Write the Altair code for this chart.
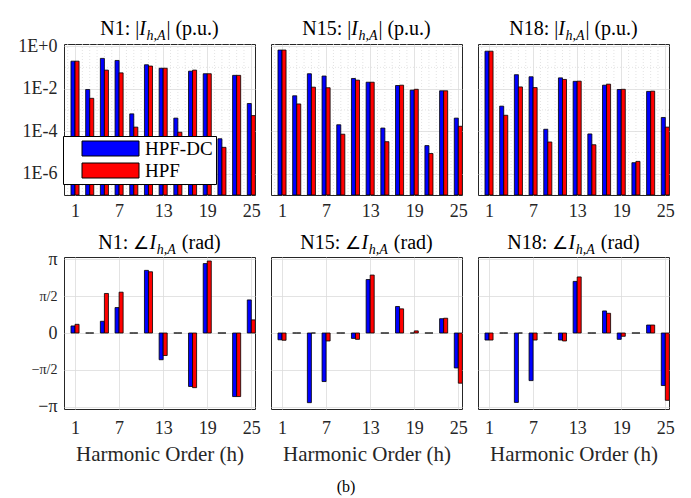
import altair as alt
import pandas as pd

# ---------------- data ----------------
harmonics = [1, 3, 5, 7, 9, 11, 13, 15, 17, 19, 21, 23, 25]
series_names = ["HPF-DC", "HPF"]
series_colors = ["#0000ff", "#ff0000"]
nodes = ["N1", "N15", "N18"]

# |I_h,A| (p.u.)
mag_n1_dc = [0.195, 9.1e-3, 0.263, 0.211, 6.5e-4, 0.132, 0.091, 4.1e-4, 0.066, 0.050, 4.4e-5, 0.042, 2.0e-3]
mag_n1_hpf = [0.195, 3.5e-3, 0.074, 0.055, 1.55e-4, 0.115, 0.091, 8.9e-5, 0.074, 0.050, 1.74e-5, 0.042, 5.4e-4]
mag_n15_dc = [0.65, 4.6e-3, 0.050, 0.039, 2.0e-4, 0.030, 0.020, 1.4e-4, 0.014, 8.5e-3, 2.1e-5, 7.9e-3, 4.1e-4]
mag_n15_hpf = [0.65, 1.9e-3, 0.0117, 0.011, 7.2e-5, 0.025, 0.020, 3.2e-5, 0.0145, 9.3e-3, 8.9e-6, 7.9e-3, 1.7e-4]
mag_n18_dc = [0.575, 1.5e-3, 0.045, 0.036, 1.23e-4, 0.032, 0.022, 7.4e-5, 0.0145, 9.1e-3, 3.3e-6, 7.4e-3, 4.4e-4]
mag_n18_hpf = [0.575, 5.6e-4, 0.012, 0.0112, 3.1e-5, 0.027, 0.0224, 2.3e-5, 0.0162, 9.3e-3, 3.8e-6, 7.6e-3, 1.55e-4]

# angle of I_h,A (rad)
ang_n1_dc = [0.30, 0.0, 0.50, 1.085, 0.0, 2.67, -1.14, 0.0, -2.28, 2.96, 0.0, -2.71, 1.41]
ang_n1_hpf = [0.37, 0.0, 1.685, 1.74, 0.0, 2.61, -0.96, 0.0, -2.33, 3.07, 0.0, -2.71, 0.56]
ang_n15_dc = [-0.29, 0.0, -2.97, -2.07, 0.0, -0.23, 2.28, 0.0, 1.13, 0.0, 0.0, 0.61, -1.49]
ang_n15_hpf = [-0.31, 0.0, 0.0, -0.34, 0.0, -0.27, 2.47, 0.0, 1.03, 0.09, 0.0, 0.63, -2.14]
ang_n18_dc = [-0.30, 0.0, -2.96, -2.03, 0.0, -0.30, 2.20, 0.0, 0.94, -0.27, 0.0, 0.34, -2.24]
ang_n18_hpf = [-0.30, 0.0, 0.0, -0.30, 0.0, -0.34, 2.39, 0.0, 0.84, -0.14, 0.0, 0.34, -2.87]

x_ticks = [1, 7, 13, 19, 25]
minor_x = [0, 2, 3, 4, 5, 6, 8, 9, 10, 11, 12, 14, 15, 16, 17, 18, 20, 21, 22, 23, 24]
log_ticks = [1e-6, 1e-4, 1e-2, 1.0]
minor_decades = [1e-1, 1e-3, 1e-5]
PI = 3.141592653589793
ang_ticks = [-PI, -PI / 2, 0, PI / 2, PI]

mags = {"N1": (mag_n1_dc, mag_n1_hpf), "N15": (mag_n15_dc, mag_n15_hpf), "N18": (mag_n18_dc, mag_n18_hpf)}
angs = {"N1": (ang_n1_dc, ang_n1_hpf), "N15": (ang_n15_dc, ang_n15_hpf), "N18": (ang_n18_dc, ang_n18_hpf)}

# ---------------- style ----------------
FONT = "Liberation Serif"
W, H_TOP, H_BOT = 191, 151, 152
BAR_W = 0.55
XDOM = [-0.5, 25.5]
GRID = "#dcdcdc"
TXT = "#262626"

EM = {"N": .722, "1": .5, "5": .5, "8": .5, ":": .278, " ": .25, "|": .2, "(": .333, ")": .333,
      "p": .5, ".": .25, "u": .5, "r": .333, "a": .444, "d": .5, "I": .333, "h": .5, ",": .25,
      "A": .611, "\u2220": .85}


def tw(s, size):
    return sum(EM.get(c, .5) for c in s) * size


def title_layers(pieces, y_base):
    """pieces: list of (text, size, style, dy, gap_after_px)"""
    total = sum(tw(t, s) + g for t, s, st, dy, g in pieces)
    x = W / 2 - total / 2
    layers = []
    for t, s, st, dy, g in pieces:
        layers.append(
            alt.Chart(pd.DataFrame({"t": [t]}))
            .mark_text(align="left", baseline="alphabetic", font=FONT, fontSize=s,
                       fontStyle=st, color="black")
            .encode(x=alt.value(x), y=alt.value(y_base + dy), text="t:N")
        )
        x += tw(t, s) + g
    return layers


def frame(node, kind):
    dc, hp = (mags if kind == "mag" else angs)[node]
    rows = []
    for i, h in enumerate(harmonics):
        rows.append({"h": h, "series": "HPF-DC", "v": dc[i]})
        rows.append({"h": h, "series": "HPF", "v": hp[i]})
    return pd.DataFrame(rows)


def color_enc(show_legend):
    if show_legend:
        leg = alt.Legend(
            title=None, orient="none", legendX=-1, legendY=92,
            direction="vertical",
            symbolType="M-1,-1L6.6,-1L6.6,1L-1,1Z", symbolSize=225,
            symbolStrokeColor="black", symbolStrokeWidth=1, symbolOpacity=1,
            labelFont=FONT, labelFontSize=19, labelColor="black", labelOffset=46,
            fillColor="white", strokeColor="black", padding=3, rowPadding=2,
            symbolOffset=14,
        )
    else:
        leg = None
    return alt.Color("series:N", scale=alt.Scale(domain=series_names, range=series_colors),
                     legend=leg, sort=series_names)


def bar_x_transforms(ch):
    return ch.transform_calculate(
        x0=f"datum.series == 'HPF-DC' ? datum.h - {BAR_W} : datum.h",
        x1=f"datum.series == 'HPF-DC' ? datum.h : datum.h + {BAR_W}",
    )


def top_panel(node, first):
    d = frame(node, "mag")
    xscale = alt.Scale(domain=XDOM, nice=False, zero=False)
    yscale = alt.Scale(type="log", domain=[1e-7, 1.25], nice=False)
    xaxis = alt.Axis(values=x_ticks, title=None, grid=True, labelPadding=7)
    if first:
        yaxis = alt.Axis(values=log_ticks, title=None, grid=True, labelPadding=7,
                         labelExpr="datum.value >= 1 ? '1E+0' : '1E-' + round(-log(datum.value)/LN10)")
    else:
        yaxis = alt.Axis(values=log_ticks, title=None, grid=True, labels=False)
    vgrid = alt.Chart(pd.DataFrame({"mx": minor_x})).mark_rule(
        color=GRID, strokeDash=[1, 2], strokeWidth=0.8).encode(x=alt.X("mx:Q", scale=xscale, axis=xaxis))
    hgrid = alt.Chart(pd.DataFrame({"my": minor_decades})).mark_rule(
        color=GRID, strokeDash=[1, 2], strokeWidth=0.8).encode(y=alt.Y("my:Q", scale=yscale, axis=yaxis))
    bars = bar_x_transforms(alt.Chart(d)).mark_bar(
        stroke="black", strokeWidth=0.8, clip=True, opacity=1).encode(
        x=alt.X("x0:Q", scale=xscale, axis=xaxis),
        x2="x1:Q",
        y=alt.Y("v:Q", scale=yscale, axis=yaxis),
        y2=alt.datum(1e-7),
        color=color_enc(first),
    )
    pieces = [(f"{node}: |", 20, "normal", 0, 0), ("I", 20, "italic", 0, 0.5),
              ("h,A", 14, "italic", 5, 1), ("|", 20, "normal", 0, 5), ("(p.u.)", 20, "normal", 0, 0)]
    return alt.layer(vgrid, hgrid, bars, *title_layers(pieces, -9)).properties(width=W, height=H_TOP)


def bottom_panel(node, first):
    d = frame(node, "ang")
    xscale = alt.Scale(domain=XDOM, nice=False, zero=False)
    yscale = alt.Scale(domain=[-3.24, 3.24], nice=False, zero=False)
    xaxis = alt.Axis(values=x_ticks, title="Harmonic Order (h)", grid=True, labelPadding=10,
                     titleFont=FONT, titleFontSize=21, titleFontWeight="normal",
                     titleColor=TXT, titlePadding=6)
    if first:
        yaxis = alt.Axis(values=ang_ticks, title=None, grid=True, labelPadding=7,
                         labelExpr="datum.value > 3 ? '\u03c0' : datum.value > 1 ? '\u03c0/2' : "
                                   "datum.value < -3 ? '\u2212\u03c0' : datum.value < -1 ? '\u2212\u03c0/2' : '0'",
                         labelFontSize={"condition": {"test": "abs(datum.value) > 1 && abs(datum.value) < 2",
                                                      "value": 14}, "value": 18})
    else:
        yaxis = alt.Axis(values=ang_ticks, title=None, grid=True, labels=False)
    bars = bar_x_transforms(alt.Chart(d)).mark_bar(
        stroke="black", strokeWidth=0.8, clip=True, opacity=1).encode(
        x=alt.X("x0:Q", scale=xscale, axis=xaxis),
        x2="x1:Q",
        y=alt.Y("v:Q", scale=yscale, axis=yaxis),
        y2=alt.datum(0),
        color=color_enc(False),
    )
    pieces = [(f"{node}:", 20, "normal", 0, 5), ("\u2220", 18, "normal", 0, 1), ("I", 20, "italic", 0, 0.5),
              ("h,A", 14, "italic", 5, 6), ("(rad)", 20, "normal", 0, 0)]
    return alt.layer(bars, *title_layers(pieces, -8)).properties(width=W, height=H_BOT)


top = alt.hconcat(*[top_panel(n, i == 0) for i, n in enumerate(nodes)], spacing=9).resolve_legend(color="independent")
bot = alt.hconcat(*[bottom_panel(n, i == 0) for i, n in enumerate(nodes)], spacing=9).resolve_legend(color="independent")

chart = alt.vconcat(top, bot, spacing=11).resolve_legend(color="independent").properties(
    title=alt.TitleParams("(b)", orient="bottom", anchor="middle", font=FONT, fontSize=16,
                          fontWeight="normal", color="black", offset=14),
    padding={"left": 17, "top": 18, "right": 10, "bottom": 5},
    background="white",
).configure_view(stroke=TXT, strokeWidth=1).configure_axis(
    labelFont=FONT, labelFontSize=18, labelColor=TXT, domain=False, ticks=False,
    gridColor=GRID, gridWidth=0.8, gridOpacity=1,
)

chart.save("out.html", embed_options={"renderer": "svg", "actions": False})
